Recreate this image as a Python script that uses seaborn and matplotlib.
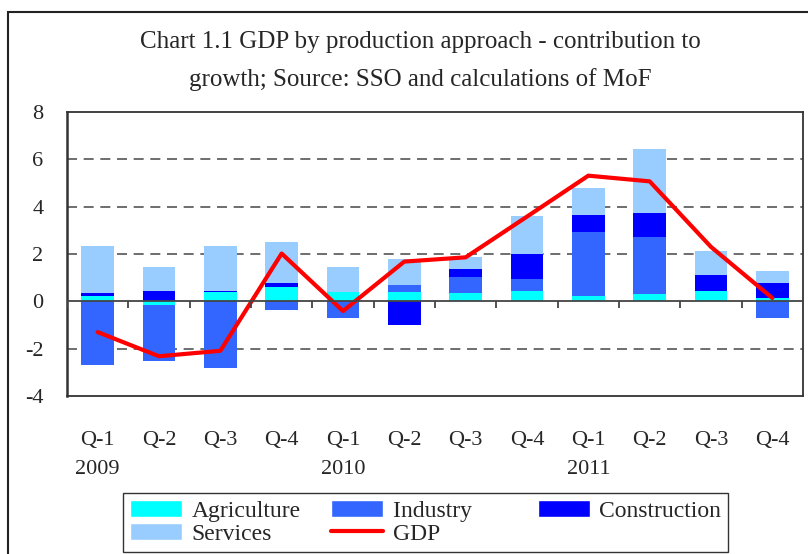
import numpy as np
import pandas as pd
import matplotlib
matplotlib.use("Agg")
import matplotlib.pyplot as plt
import seaborn as sns
from matplotlib.patches import Patch, Rectangle
from matplotlib.lines import Line2D

# ==========================================
# DATA (contribution to growth, p.p.)
# ==========================================
quarters = ["Q-1", "Q-2", "Q-3", "Q-4"] * 3
years = ["2009", "", "", "", "2010", "", "", "", "2011", "", "", ""]
agriculture = [0.22, -0.14, 0.39, 0.60, 0.39, 0.39, 0.35, 0.43, 0.22, 0.31, 0.43, 0.14]
industry = [-2.67, -2.37, -2.83, -0.36, -0.70, 0.29, 0.67, 0.50, 2.73, 2.39, 0.00, -0.70]
construction = [0.13, 0.43, 0.04, 0.17, 0.00, -0.99, 0.34, 1.05, 0.71, 1.05, 0.67, 0.63]
services = [1.97, 1.01, 1.89, 1.72, 1.05, 1.13, 0.50, 1.64, 1.13, 2.69, 1.01, 0.50]
gdp = [-1.30, -2.32, -2.09, 2.02, -0.41, 1.68, 1.86, 3.58, 5.31, 5.07, 2.30, 0.14]

components = [
    ("Agriculture", agriculture, "#00FFFF"),
    ("Industry", industry, "#3366FF"),
    ("Construction", construction, "#0000FF"),
    ("Services", services, "#99CCFF"),
]

sns.set_style("white")
plt.rcParams["font.family"] = ["Liberation Serif", "DejaVu Serif"]
FS = 16

fig = plt.figure(figsize=(8.08, 5.54), dpi=100)
ax = fig.add_axes([0.0829, 0.2852, 0.9109, 0.5126])

pos = np.arange(len(quarters))
pos_bottom = np.zeros(len(pos))
neg_bottom = np.zeros(len(pos))

# stacked bars: positives stack up from 0, negatives stack down from 0
for name, vals, color in components:
    vals = np.array(vals)
    bottom = np.where(vals >= 0, pos_bottom, neg_bottom)
    df = pd.DataFrame({"x": pos, "y": vals})
    sns.barplot(data=df, x="x", y="y", bottom=bottom, color=color, width=0.53,
                errorbar=None, saturation=1, linewidth=0, ax=ax)
    pos_bottom = pos_bottom + np.where(vals >= 0, vals, 0)
    neg_bottom = neg_bottom + np.where(vals < 0, vals, 0)

sns.lineplot(x=pos, y=gdp, color="#FF0000", lw=3, sort=False, ax=ax)

# axes styling
ax.set_xlim(-0.5, len(pos) - 0.5)
ax.set_ylim(-4, 8)
ax.set_yticks(range(-4, 9, 2))
ax.set_yticklabels([str(v) for v in range(-4, 9, 2)], fontsize=FS)
for g in [-2, 2, 4, 6]:
    ax.axhline(g, color="#555555", lw=1.2, ls=(0, (6, 4)), zorder=0)
ax.axhline(0, color="#444444", lw=1.3, zorder=3)
ax.vlines(np.arange(len(pos) + 1) - 0.5, -0.3, 0, color="#444444", lw=1.3, zorder=3)

ax.set_xticks(pos)
ax.set_xticklabels([f"{q}\n{y}" for q, y in zip(quarters, years)], fontsize=FS,
                   linespacing=1.72, va="top")
ax.tick_params(axis="x", length=0, pad=25)
ax.tick_params(axis="y", length=7, width=1.3, direction="out", color="#444444", pad=10)
ax.set_xlabel("")
ax.set_ylabel("")
for side, sp in ax.spines.items():
    sp.set_visible(True)
    sp.set_color("#333333")
    sp.set_linewidth(1.3)
ax.spines["left"].set_linewidth(1.8)

# title
fig.text(0.52, 0.89, "Chart 1.1 GDP by production approach - contribution to\n"
         "growth; Source: SSO and calculations of MoF",
         ha="center", va="center", fontsize=18, linespacing=1.82)

# legend (column-major order so rows read Agriculture/Industry/Construction)
handles = [
    Patch(facecolor="#00FFFF", label="Agriculture"),
    Patch(facecolor="#99CCFF", label="Services"),
    Patch(facecolor="#3366FF", label="Industry      "),
    Line2D([0], [0], color="#FF0000", lw=3, label="GDP"),
    Patch(facecolor="#0000FF", label="Construction"),
]
leg = fig.legend(handles=handles, ncol=3, loc="lower left",
                 bbox_to_anchor=(0.152, 0.004, 0.749, 0.114), mode="expand",
                 fontsize=17, frameon=True, fancybox=False, edgecolor="black",
                 handlelength=2.2, handleheight=0.75, handletextpad=0.4,
                 labelspacing=0.05, borderpad=0.3, borderaxespad=0)
leg.get_frame().set_linewidth(1.0)

# outer chart border
fig.patches.append(Rectangle((8 / 808, -0.2), 1.5, (554 - 12) / 554 + 0.2,
                             transform=fig.transFigure, fill=False,
                             edgecolor="#222222", lw=1.5))

fig.savefig("out.png", dpi=100)
